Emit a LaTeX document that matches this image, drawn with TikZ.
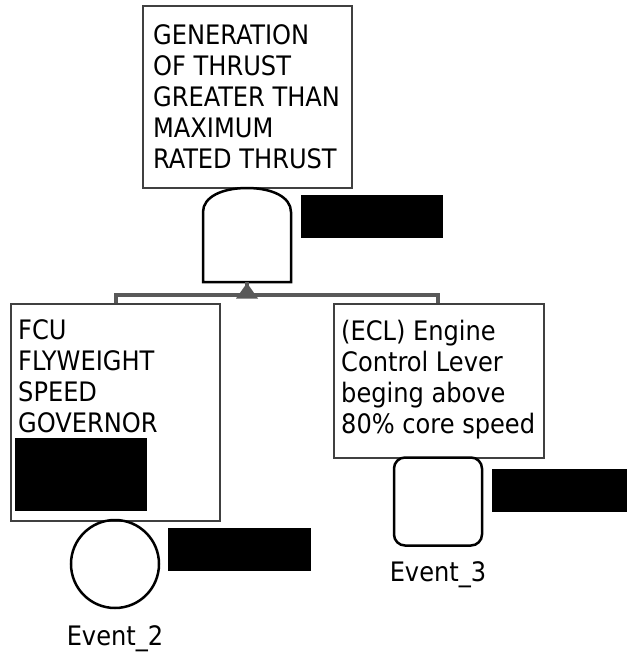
\documentclass[tikz,border=0pt]{standalone}
\usepackage{fontspec}
\setmainfont{DejaVu Sans Condensed}
\definecolor{boxgray}{HTML}{404040}
\definecolor{linegray}{HTML}{595959}
\begin{document}
\begin{tikzpicture}[x=1pt,y=-1pt,
  box/.style={draw=boxgray,line width=2pt,fill=white,inner sep=0pt,anchor=north west},
  lbl/.style={font=\fontsize{26.8}{31}\selectfont,inner sep=0pt,anchor=base west},
  evlbl/.style={font=\fontsize{26.8}{31}\selectfont,inner sep=0pt,anchor=base},
  conn/.style={draw=linegray,line width=3.6pt},
  redact/.style={fill=black,draw=none,inner sep=0pt,anchor=north west},
  gate/.style={draw=black,line width=2.5pt,fill=white},
  event/.style={draw=black,line width=2.5pt,minimum size=88pt,inner sep=0pt}]
\useasboundingbox (0,0) rectangle (627,653);
% boxes
\node[box,minimum width=209pt,minimum height=182pt] (top) at (142,5) {};
\node[lbl] (toptext) at (153,44.3) {\vtop{\hbox{GENERATION}\hbox{OF THRUST}\hbox{GREATER THAN}\hbox{MAXIMUM}\hbox{RATED THRUST}}};
\node[box,minimum width=209pt,minimum height=217pt] (left) at (10,303) {};
\node[lbl] (lefttext) at (18,339.3) {\vtop{\hbox{FCU}\hbox{FLYWEIGHT}\hbox{SPEED}\hbox{GOVERNOR}}};
\node[box,minimum width=210pt,minimum height=154pt] (right) at (333,303) {};
\node[lbl] (righttext) at (341,340) {\vtop{\hbox{(ECL) Engine}\hbox{Control Lever}\hbox{beging above}\hbox{80\% core speed}}};
% AND gate
\coordinate (gbl) at (203,282);
\coordinate (gbr) at (291,282);
\draw[gate] (gbl) -- (203,212) .. controls (203,197) and (222,188) .. (247,188)
  .. controls (272,188) and (291,197) .. (291,212) -- (gbr) -- cycle;
\coordinate (gout) at (247,282);
% connectors
\coordinate (bus) at (247,295);
\draw[conn] (left.north -| 116,0) |- (bus) -| (right.north -| 438,0);
\draw[conn] (gout) -- (bus);
\fill[linegray] (247,283) -- (258,298.5) -- (236,298.5) -- cycle;
% events
\node[event,circle] (ev2) at (115,564) {};
\node[evlbl] (ev2lbl) at (115,645.5) {Event\_2};
\node[event,rounded corners=11pt] (ev3) at (438,501.5) {};
\node[evlbl] (ev3lbl) at (438,581.5) {Event\_3};
% redactions
\node[redact,minimum width=142pt,minimum height=43pt] (r1) at (301,195) {};
\node[redact,minimum width=132pt,minimum height=73pt] (r2) at (15,438) {};
\node[redact,minimum width=143pt,minimum height=43pt] (r3) at (168,528) {};
\node[redact,minimum width=135pt,minimum height=43pt] (r4) at (492,469) {};
\end{tikzpicture}
\end{document}
